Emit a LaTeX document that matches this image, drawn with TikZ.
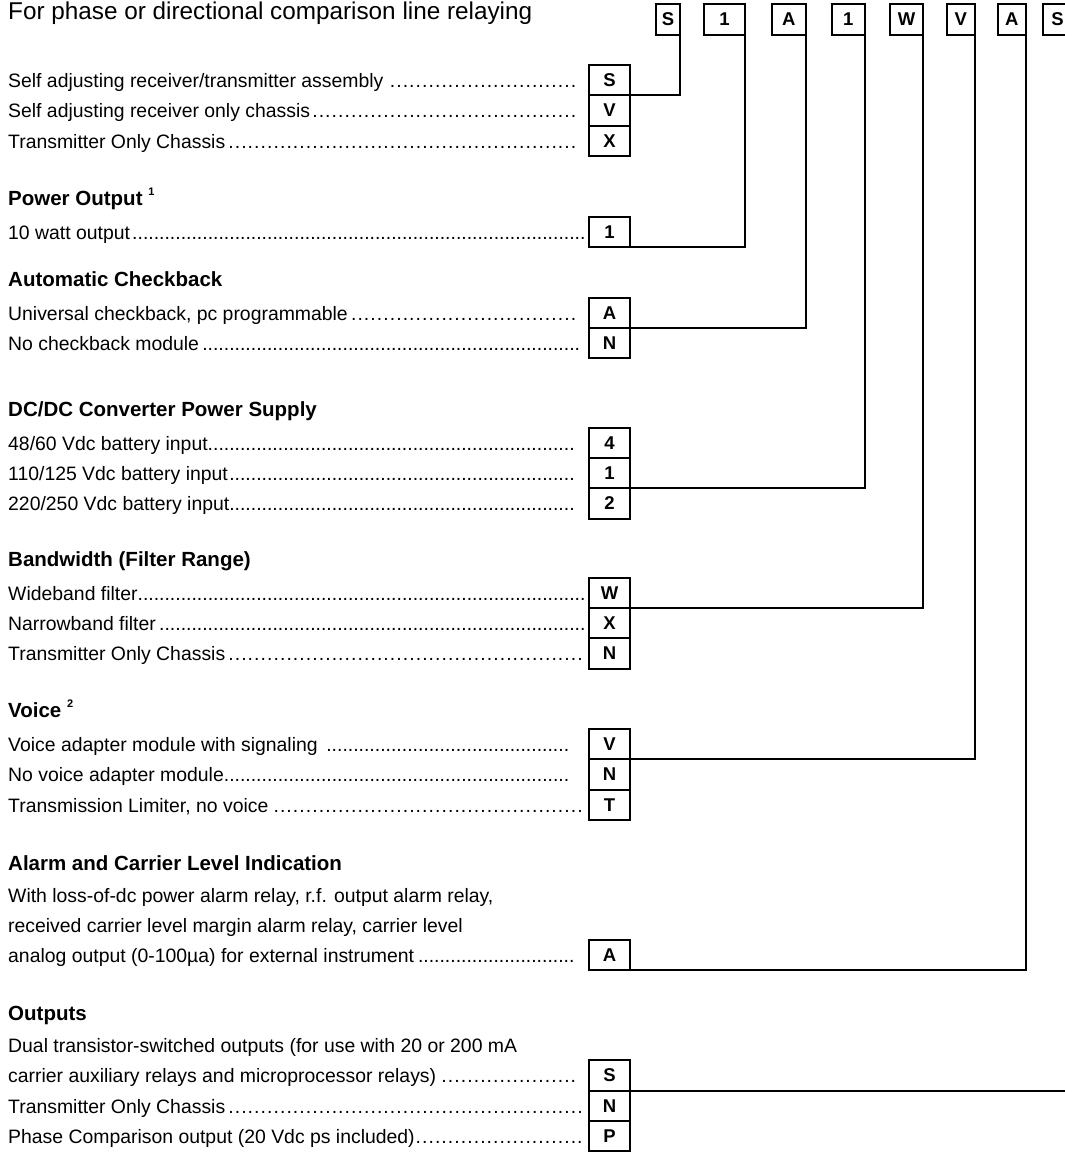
\documentclass[tikz,border=0pt]{standalone}
\usepackage{fontspec}
\setmainfont{Liberation Sans}
\newcommand\pdotfill{\leaders\hbox to 0.278em{\hss.\hss}\hfill}
\newcommand\edotfill{\leaders\hbox to 0.333em{\hss.\hss}\hfill}
\newcommand\itemtxt[3]{\makebox[#1pt][l]{#2#3}}
\tikzset{
  box/.style={draw, line width=2pt, rectangle, outer sep=0pt, inner sep=0pt,
    minimum width=41pt, minimum height=30.2pt,
    font=\fontsize{18.5}{20}\selectfont\bfseries},
  tbox/.style={box, minimum height=31pt},
  itm/.style={anchor=base west, inner sep=0pt, font=\fontsize{19.4}{22}\selectfont},
  head/.style={anchor=base west, inner sep=0pt, font=\fontsize{20.5}{22}\selectfont\bfseries},
  sub/.style={anchor=base west, inner sep=0pt, font=\fontsize{24.3}{26}\selectfont},
  link/.style={line width=2pt},
}
\begin{document}
\begin{tikzpicture}[x=1pt,y=-1pt]
\useasboundingbox (0,0) rectangle (1065,1152);
\clip (0,0) rectangle (1065,1152);
% subtitle
\node[sub] (subtitle) at (8,19) {For phase or directional comparison line relaying};
% top code boxes
\node[tbox, minimum width=24pt]   (tS)  at (668,19.5)    {S};
\node[tbox, minimum width=41pt]   (tP)  at (724.5,19.5)  {1};
\node[tbox, minimum width=33.5pt] (tA)  at (788.75,19.5) {A};
\node[tbox, minimum width=33pt]   (tD)  at (848.25,19.5) {1};
\node[tbox, minimum width=33pt]   (tW)  at (906.5,19.5)  {W};
\node[tbox, minimum width=28.5pt] (tV)  at (960.75,19.5) {V};
\node[tbox, minimum width=28.5pt] (tL)  at (1011.75,19.5){A};
\node[tbox, minimum width=29pt]   (tO)  at (1057.5,19.5) {S};

% group 1
\node[itm] (i1a) at (8,87)  {\itemtxt{569}{Self adjusting receiver/transmitter assembly}{\edotfill}};
\node[itm] (i1b) at (8,117) {\itemtxt{569}{Self adjusting receiver only chassis}{\edotfill}};
\node[itm] (i1c) at (8,148) {\itemtxt{569}{Transmitter Only Chassis}{\edotfill}};
\node[box] (g1S) at (609.5,80.1)  {S};
\node[box] (g1V) at (609.5,110.4) {V};
\node[box] (g1X) at (609.5,140.7) {X};

% power output
\node[head] (h2) at (8,205) {Power Output \raisebox{0.45em}{\fontsize{11}{12}\selectfont 1}};
\node[itm] (i2a) at (8,239) {\itemtxt{578}{10 watt output}{\pdotfill}};
\node[box] (g2P) at (609.5,232) {1};

% checkback
\node[head] (h3) at (8,286) {Automatic Checkback};
\node[itm] (i3a) at (8,320) {\itemtxt{569}{Universal checkback, pc programmable}{\edotfill}};
\node[itm] (i3b) at (8,350) {\itemtxt{577}{No checkback module}{\pdotfill}};
\node[box] (g3A) at (609.5,313) {A};
\node[box] (g3N) at (609.5,343.2) {N};

% DC/DC
\node[head] (h4) at (8,416) {DC/DC Converter Power Supply};
\node[itm] (i4a) at (8,450) {\itemtxt{570}{48/60 Vdc battery input}{\pdotfill}};
\node[itm] (i4b) at (8,480) {\itemtxt{570}{110/125 Vdc battery input}{\pdotfill}};
\node[itm] (i4c) at (8,510) {\itemtxt{570}{220/250 Vdc battery input}{\pdotfill}};
\node[box] (g4a) at (609.5,443)   {4};
\node[box] (g4b) at (609.5,473.2) {1};
\node[box] (g4c) at (609.5,503.4) {2};

% bandwidth
\node[head] (h5) at (8,566) {Bandwidth (Filter Range)};
\node[itm] (i5a) at (8,600) {\itemtxt{580}{Wideband filter}{\pdotfill}};
\node[itm] (i5b) at (8,630) {\itemtxt{580}{Narrowband filter}{\pdotfill}};
\node[itm] (i5c) at (8,660) {\itemtxt{580}{Transmitter Only Chassis}{\edotfill}};
\node[box] (g5W) at (609.5,593)   {W};
\node[box] (g5X) at (609.5,623.2) {X};
\node[box] (g5N) at (609.5,653.4) {N};

% voice
\node[head] (h6) at (8,717) {Voice \raisebox{0.45em}{\fontsize{11}{12}\selectfont 2}};
\node[itm] (i6a) at (8,751) {\itemtxt{565}{Voice adapter module with signaling }{\pdotfill}};
\node[itm] (i6b) at (8,781) {\itemtxt{565}{No voice adapter module}{\pdotfill}};
\node[itm] (i6c) at (8,812) {\itemtxt{580}{Transmission Limiter, no voice}{\edotfill}};
\node[box] (g6V) at (609.5,744)   {V};
\node[box] (g6N) at (609.5,774.5) {N};
\node[box] (g6T) at (609.5,804.8) {T};

% alarm
\node[head] (h7) at (8,870) {Alarm and Carrier Level Indication};
\node[itm] (i7a) at (8,902) {With loss-of-dc power alarm relay, r.f. output alarm relay,};
\node[itm] (i7b) at (8,932) {received carrier level margin alarm relay, carrier level};
\node[itm] (i7c) at (8,962) {\itemtxt{570}{analog output (0-100µa) for external instrument}{\pdotfill}};
\node[box] (g7A) at (609.5,955) {A};

% outputs
\node[head] (h8) at (8,1020) {Outputs};
\node[itm] (i8a) at (8,1052) {Dual transistor-switched outputs (for use with 20 or 200 mA};
\node[itm] (i8b) at (8,1082) {\itemtxt{574}{carrier auxiliary relays and microprocessor relays)}{\edotfill}};
\node[itm] (i8c) at (8,1113) {\itemtxt{580}{Transmitter Only Chassis}{\edotfill}};
\node[itm] (i8d) at (8,1143) {\itemtxt{580}{Phase Comparison output (20 Vdc ps included)}{\edotfill}};
\node[box] (g8S) at (609.5,1075.5) {S};
\node[box] (g8N) at (609.5,1106)   {N};
\node[box] (g8P) at (609.5,1136.3) {P};

% connectors
\draw[link] (tS.south east) |- (g1S.south east);
\draw[link] (tP.south east) |- (g2P.south east);
\draw[link] (tA.south east) |- (g3A.south east);
\draw[link] (tD.south east) |- (g4b.south east);
\draw[link] (tW.south east) |- (g5W.south east);
\draw[link] (tV.south east) |- (g6V.south east);
\draw[link] (tL.south east) |- (g7A.south east);
\draw[link] (tO.south east) |- (g8S.south east);
\end{tikzpicture}
\end{document}
